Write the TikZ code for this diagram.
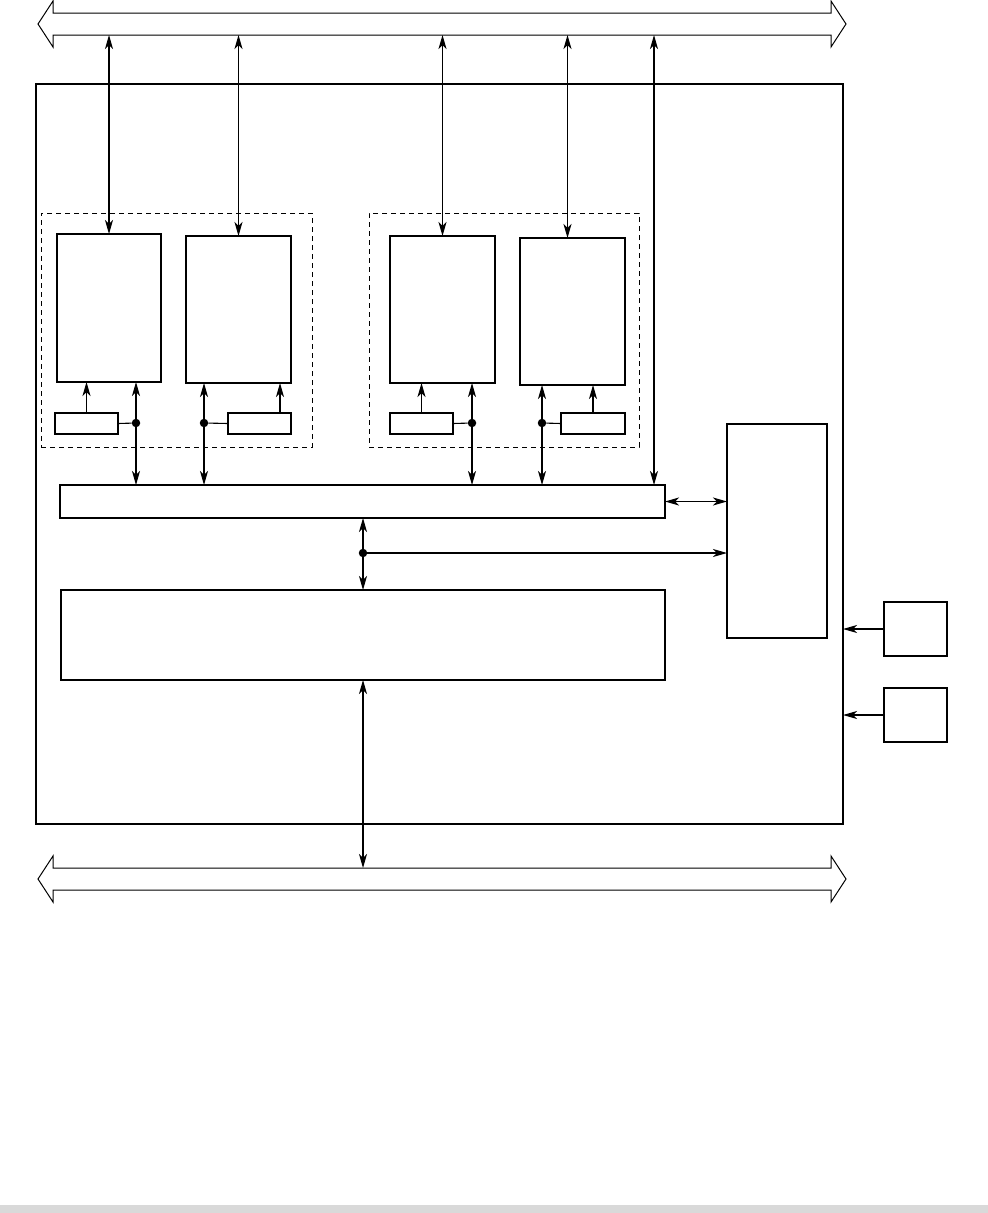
\documentclass[tikz,border=0pt]{standalone}
\usetikzlibrary{arrows.meta,positioning,calc}

\begin{document}
\begin{tikzpicture}[x=1pt, y=-1pt,
  unit/.style={draw, line width=1.1pt, inner sep=0pt, outer sep=0pt,
    anchor=north west},
  chipbox/.style={draw, line width=2.8pt, inner sep=0pt, outer sep=0pt,
    anchor=north west},
  group/.style={draw, line width=0.9pt, dash pattern=on 5pt off 4pt,
    inner sep=0pt, outer sep=0pt, anchor=north west},
  wire/.style={line width=1.1pt},
  link/.style={line width=1.1pt,
    -{Stealth[length=14pt, width=8pt, inset=4pt]}},
  bilink/.style={line width=1.1pt,
    {Stealth[length=14pt, width=8pt, inset=4pt]}-{Stealth[length=14pt, width=8pt, inset=4pt]}},
  bus/.style={draw, line width=1pt, fill=white, line join=miter},
  junction/.style={circle, fill, inner sep=0pt, minimum size=8.5pt}
]
\useasboundingbox (0,0) rectangle (988,1213);
\fill[gray!30] (0,1205) rectangle (988,1213);

% system buses
\draw[bus] (38,24) -- (53,1) -- (53,13) -- (831,13) -- (831,1) -- (846,24)
  -- (831,47) -- (831,35) -- (53,35) -- (53,47) -- cycle;
\draw[bus] (38,879) -- (53,856) -- (53,868) -- (831,868) -- (831,856)
  -- (846,879) -- (831,902) -- (831,890) -- (53,890) -- (53,902) -- cycle;
\coordinate (topbus) at (0,35);
\coordinate (botbus) at (0,868);

% chip and blocks
\node[chipbox, minimum width=807pt, minimum height=740pt] (chip) at (36,84) {};
\node[group, minimum width=271pt, minimum height=234pt] (grpA) at (41,213) {};
\node[group, minimum width=270pt, minimum height=234pt] (grpB) at (369,213) {};

\node[unit, minimum width=104pt, minimum height=148pt] (coreA) at (57,234) {};
\node[unit, minimum width=105pt, minimum height=147pt] (coreB) at (186,236) {};
\node[unit, minimum width=105pt, minimum height=147pt] (coreC) at (390,236) {};
\node[unit, minimum width=105pt, minimum height=147pt] (coreD) at (520,238) {};

\node[unit, minimum width=63pt, minimum height=21pt] (sensA) at (55,413) {};
\node[unit, minimum width=63pt, minimum height=21pt] (sensB) at (228,413) {};
\node[unit, minimum width=63pt, minimum height=21pt] (sensC) at (390,413) {};
\node[unit, minimum width=64pt, minimum height=21pt] (sensD) at (561,413) {};

\node[unit, minimum width=605pt, minimum height=33pt] (bar) at (60,485) {};
\node[unit, minimum width=604pt, minimum height=90pt] (mem) at (61,590) {};
\node[unit, minimum width=100pt, minimum height=214pt] (ctrl) at (727,424) {};
\node[unit, minimum width=63pt, minimum height=54pt] (extA) at (884,602) {};
\node[unit, minimum width=63pt, minimum height=54pt] (extB) at (884,688) {};

\node[junction] (jA) at (136,423) {};
\node[junction] (jB) at (204,423) {};
\node[junction] (jC) at (472,423) {};
\node[junction] (jD) at (542,423) {};
\node[junction] (jM) at (363,553) {};

\coordinate (tapD) at ([xshift=-5pt]coreD.north);
\coordinate (tapB) at ([xshift=-11pt]sensB.north east);
\coordinate (tapBar) at (654,485);

% links to the top bus
\draw[bilink] (coreA.north) -- (coreA.north |- topbus);
\draw[bilink] (coreB.north) -- (coreB.north |- topbus);
\draw[bilink] (coreC.north) -- (coreC.north |- topbus);
\draw[bilink] (tapD) -- (tapD |- topbus);
\draw[bilink] (tapBar) -- (tapBar |- topbus);

% sensors
\draw[link] (sensA.north) -- (sensA.north |- coreA.south);
\draw[link] (tapB) -- (tapB |- coreB.south);
\draw[link] (sensC.north) -- (sensC.north |- coreC.south);
\draw[link] (sensD.north) -- (sensD.north |- coreD.south);
\draw[wire] (sensA.east) -- (jA);
\draw[wire] (jB) -- (sensB.west);
\draw[wire] (sensC.east) -- (jC);
\draw[wire] (jD) -- (sensD.west);

\draw[link] (jA) -- (jA |- coreA.south);
\draw[link] (jA) -- (jA |- bar.north);
\draw[link] (jB) -- (jB |- coreB.south);
\draw[link] (jB) -- (jB |- bar.north);
\draw[link] (jC) -- (jC |- coreC.south);
\draw[link] (jC) -- (jC |- bar.north);
\draw[link] (jD) -- (jD |- coreD.south);
\draw[link] (jD) -- (jD |- bar.north);

% bar, memory, controller
\draw[bilink] (bar.east) -- (bar.east -| ctrl.west);
\draw[link] (jM) -- (jM |- bar.south);
\draw[link] (jM) -- (jM |- mem.north);
\draw[link] (jM) -- (jM -| ctrl.west);
\draw[bilink] (mem.south) -- (mem.south |- botbus);

% external inputs
\draw[link] (extA.west) -- (extA.west -| chip.east);
\draw[link] (extB.west) -- (extB.west -| chip.east);
\end{tikzpicture}
\end{document}
